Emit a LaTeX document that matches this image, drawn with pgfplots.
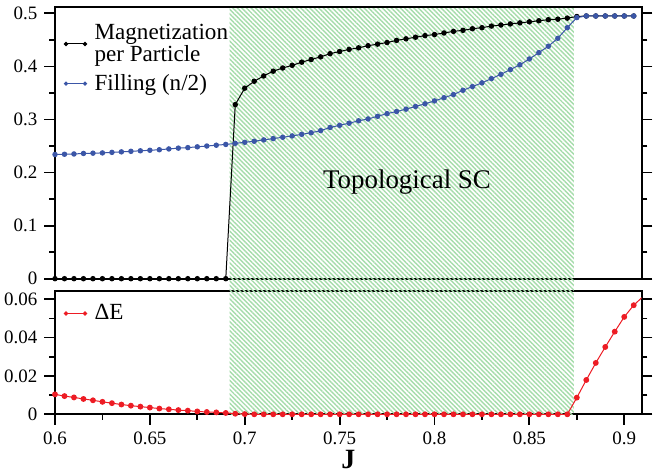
\documentclass[border=0pt]{standalone}
\usepackage{fontspec}
\IfFontExistsTF{LiberationSerif-Regular.ttf}
  {\setmainfont{LiberationSerif}[Extension=.ttf, UprightFont=*-Regular,
     BoldFont=*-Bold, ItalicFont=*-Italic, BoldItalicFont=*-BoldItalic]}
  {\setmainfont{DejaVu Serif}}
\usepackage{pgfplots}
\pgfplotsset{compat=1.18}
\usetikzlibrary{patterns.meta}

\definecolor{fillblue}{RGB}{59,86,167}
\definecolor{dered}{RGB}{237,28,36}
\definecolor{hatchgreen}{RGB}{165,220,170}

\tikzset{hatch/.style={pattern={Lines[angle=-45, distance=1.6bp, line width=0.7bp]}, pattern color=hatchgreen}}

\pgfplotsset{
  panel/.style={
    scale only axis, width=293.35bp,
    xmin=0.6, xmax=0.9092,
    axis line style={line width=1bp},
    every tick/.style={line width=0.9bp, black},
    major tick length=5.3bp, minor tick length=2.8bp,
    tick align=outside,
    ytick pos=both, yticklabel pos=left,
    minor x tick num=1, minor y tick num=1,
    scaled ticks=false,
    /pgf/number format/assume math mode=true,
    tick label style={font=\rmfamily\fontsize{9.5}{9.5}\selectfont},
    legend image code/.code={\draw[##1, mark size=0.8bp] plot coordinates {(0bp,0bp) (9.5bp,0bp)};},
    legend style={draw=none, fill=none, inner sep=0pt, anchor=north west,
      font=\rmfamily\fontsize{11.6}{11}\selectfont, cells={anchor=west, align=left},
      /tikz/every odd column/.append style={column sep=2bp}},
  },
}

\begin{document}
\begin{tikzpicture}
\useasboundingbox (-27.5bp,-96.65bp) rectangle (302.5bp,139.35bp);

% upper panel: magnetization and filling
\begin{axis}[panel, name=top, at={(0,0)}, anchor=south west,
    height=135.6bp, ymin=0, ymax=0.511,
    ytick={0,0.1,0.2,0.3,0.4,0.5},
    xtick=\empty, clip=false,
    legend style={at={(axis description cs:0,1)}, xshift=4.5bp, yshift=-6bp,
      /tikz/row sep=1bp}]
  \fill[hatch] (axis cs:0.692,-0.0232) rectangle (axis cs:0.8734,0.509);
  \addplot[black, line width=0.5bp, mark=*, mark size=1.1bp] coordinates {
    (0.600,0) (0.605,0) (0.610,0) (0.615,0) (0.620,0) (0.625,0) (0.630,0)
    (0.635,0) (0.640,0) (0.645,0) (0.650,0) (0.655,0) (0.660,0) (0.665,0)
    (0.670,0) (0.675,0) (0.680,0) (0.685,0) (0.690,0)
    (0.695,0.328) (0.700,0.359) (0.705,0.372) (0.710,0.382) (0.715,0.391)
    (0.720,0.397) (0.725,0.402) (0.730,0.408) (0.735,0.413) (0.740,0.418)
    (0.745,0.424) (0.750,0.428) (0.755,0.432) (0.760,0.435) (0.765,0.439)
    (0.770,0.442) (0.775,0.445) (0.780,0.449) (0.785,0.452) (0.790,0.455)
    (0.795,0.458) (0.800,0.460) (0.805,0.463) (0.810,0.466) (0.815,0.468)
    (0.820,0.471) (0.825,0.473) (0.830,0.476) (0.835,0.478) (0.840,0.480)
    (0.845,0.482) (0.850,0.484) (0.855,0.486) (0.860,0.488) (0.865,0.489)
    (0.870,0.491) (0.875,0.494) (0.880,0.495) (0.885,0.495) (0.890,0.495)
    (0.895,0.495) (0.900,0.495) (0.905,0.495)
  };
  \addlegendentry{Magnetization\\per Particle}
  \addplot[fillblue, line width=0.5bp, mark=*, mark size=1.1bp] coordinates {
    (0.600,0.2340) (0.605,0.2345) (0.610,0.2350) (0.615,0.2360) (0.620,0.2365)
    (0.625,0.2370) (0.630,0.2380) (0.635,0.2390) (0.640,0.2400) (0.645,0.2410)
    (0.650,0.2420) (0.655,0.2430) (0.660,0.2445) (0.665,0.2460) (0.670,0.2470)
    (0.675,0.2485) (0.680,0.2500) (0.685,0.2515) (0.690,0.2530) (0.695,0.2550)
    (0.700,0.2570) (0.705,0.2590) (0.710,0.2615) (0.715,0.2640) (0.720,0.2665)
    (0.725,0.2690) (0.730,0.2720) (0.735,0.2750) (0.740,0.2790) (0.745,0.2850)
    (0.750,0.2890) (0.755,0.2930) (0.760,0.2975) (0.765,0.3010) (0.770,0.3060)
    (0.775,0.3110) (0.780,0.3150) (0.785,0.3195) (0.790,0.3245) (0.795,0.3295)
    (0.800,0.3350) (0.805,0.3410) (0.810,0.3470) (0.815,0.3550) (0.820,0.3620)
    (0.825,0.3690) (0.830,0.3770) (0.835,0.3850) (0.840,0.3940) (0.845,0.4030)
    (0.850,0.4140) (0.855,0.4260) (0.860,0.4380) (0.865,0.4530) (0.870,0.4730)
    (0.875,0.4920) (0.880,0.4950) (0.885,0.4950) (0.890,0.4950) (0.895,0.4950)
    (0.900,0.4950) (0.905,0.4950)
  };
  \addlegendentry{Filling (n/2)}
  \node[font=\rmfamily\fontsize{13.5}{13.5}\selectfont] at (axis cs:0.7855,0.182) {Topological SC};
\end{axis}

% lower panel: energy gap
\begin{axis}[panel, at={(0,-6.15bp)}, anchor=north west,
    height=61.65bp, ymin=0, ymax=0.0643,
    ytick={0,0.02,0.04,0.06}, yticklabels={0,0.02,0.04,0.06},
    xtick={0.6,0.65,0.7,0.75,0.8,0.85,0.9},
    xticklabels={0.6,0.65,0.7,0.75,0.8,0.85,0.9},
    xtick pos=bottom,
    clip mode=individual,
    xlabel={\textbf{J}},
    xlabel style={font=\rmfamily\fontsize{14}{14}\selectfont,
      at={(axis description cs:0.5,0)}, anchor=base, yshift=-26.9bp},
    legend style={at={(axis description cs:0,1)}, xshift=4.5bp, yshift=-4.5bp}]
  \fill[hatch] (axis cs:0.692,0) rectangle (axis cs:0.8734,0.0643);
  \addplot[dered, line width=0.5bp, mark=*, mark size=1.2bp] coordinates {
    (0.600,0.0104) (0.605,0.0095) (0.610,0.0088) (0.615,0.0080) (0.620,0.0073)
    (0.625,0.0065) (0.630,0.0058) (0.635,0.0051) (0.640,0.0045) (0.645,0.0040)
    (0.650,0.0035) (0.655,0.0030) (0.660,0.0026) (0.665,0.0022) (0.670,0.0019)
    (0.675,0.0015) (0.680,0.0012) (0.685,0.0010) (0.690,0.0007) (0.695,0.0003)
    (0.700,0.0001) (0.705,0) (0.710,0) (0.715,0) (0.720,0) (0.725,0) (0.730,0)
    (0.735,0) (0.740,0) (0.745,0) (0.750,0) (0.755,0) (0.760,0) (0.765,0)
    (0.770,0) (0.775,0) (0.780,0) (0.785,0) (0.790,0) (0.795,0) (0.800,0)
    (0.805,0) (0.810,0) (0.815,0) (0.820,0) (0.825,0) (0.830,0) (0.835,0)
    (0.840,0) (0.845,0) (0.850,0) (0.855,0) (0.860,0) (0.865,0) (0.870,0)
    (0.875,0.0087) (0.880,0.0179) (0.885,0.0268) (0.890,0.0351) (0.895,0.0431)
    (0.900,0.0508) (0.905,0.0569) (0.910,0.0615)
  };
  \addlegendentry{ΔE}
\end{axis}
\end{tikzpicture}
\end{document}
